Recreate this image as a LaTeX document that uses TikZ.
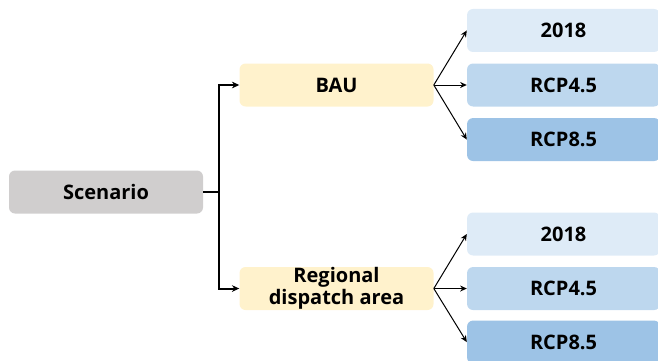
\documentclass[tikz,border=0pt]{standalone}
\usepackage{fontspec}
\setmainfont{Open Sans}
\usepackage{xcolor}
\usepackage{tikz}
\usetikzlibrary{arrows.meta, positioning}
\definecolor{scengray}{HTML}{D0CECE}
\definecolor{caseyellow}{HTML}{FFF2CC}
\definecolor{blueA}{HTML}{DEEBF7}
\definecolor{blueB}{HTML}{BDD7EE}
\definecolor{blueC}{HTML}{9DC3E6}
\tikzstyle{trunk} = [line width=1.5pt,-{Stealth[length=5.5pt,width=5pt]}]
\tikzstyle{branch} = [line width=0.75pt,-{Stealth[length=5pt,width=4.5pt]}]
\tikzstyle{box} = [rectangle, rounded corners=4.5pt, minimum width=145.5pt, minimum height=32.25pt, inner sep=0pt, align=center, font=\fontsize{15}{16.5}\selectfont\bfseries]
\tikzset{
	scenbox/.style = {box, fill=scengray},
	casebox/.style = {box, fill=caseyellow},
	yrbox/.style   = {box, fill=blueA, minimum width=144.75pt},
	rcpBbox/.style = {box, fill=blueB, minimum width=144.75pt},
	rcpCbox/.style = {box, fill=blueC, minimum width=144.75pt}
}

\begin{document}
\begin{tikzpicture}[x=0.75pt, y=-0.75pt]
%----------------------------------------------------------------------------
\useasboundingbox (0,0) rectangle (658,361);

% Scenario and the two cases
\node (scen) [scenbox] at (106,192) {Scenario};
\node (bau) [casebox, right=27pt of scen, yshift=80.25pt] {BAU};
\node (rda) [casebox, right=27pt of scen, yshift=-72.4pt] {Regional\\dispatch area};

% BAU climate cases
\node (bauRcpB) [rcpBbox, right=24.75pt of bau] {RCP4.5};
\node (bauYr)   [yrbox, above=8.25pt of bauRcpB] {2018};
\node (bauRcpC) [rcpCbox, below=8.25pt of bauRcpB] {RCP8.5};

% Regional dispatch climate cases
\node (rdaRcpB) [rcpBbox, right=24.75pt of rda] {RCP4.5};
\node (rdaYr)   [yrbox, above=8.25pt of rdaRcpB] {2018};
\node (rdaRcpC) [rcpCbox, below=7.5pt of rdaRcpB] {RCP8.5};

%----------------------------------------------------------------------------
% Lines
\coordinate (split) at ([xshift=12pt] scen.east);
\draw [line width=1.5pt] (scen.east) -- (split);
\draw [trunk] (split) |- (bau.west);
\draw [trunk] (split) |- (rda.west);

\draw [branch] (bau.east) -- (bauYr.west);
\draw [branch] (bau.east) -- (bauRcpB.west);
\draw [branch] (bau.east) -- (bauRcpC.west);

\draw [branch] (rda.east) -- (rdaYr.west);
\draw [branch] (rda.east) -- (rdaRcpB.west);
\draw [branch] (rda.east) -- (rdaRcpC.west);

\end{tikzpicture}
\end{document}
